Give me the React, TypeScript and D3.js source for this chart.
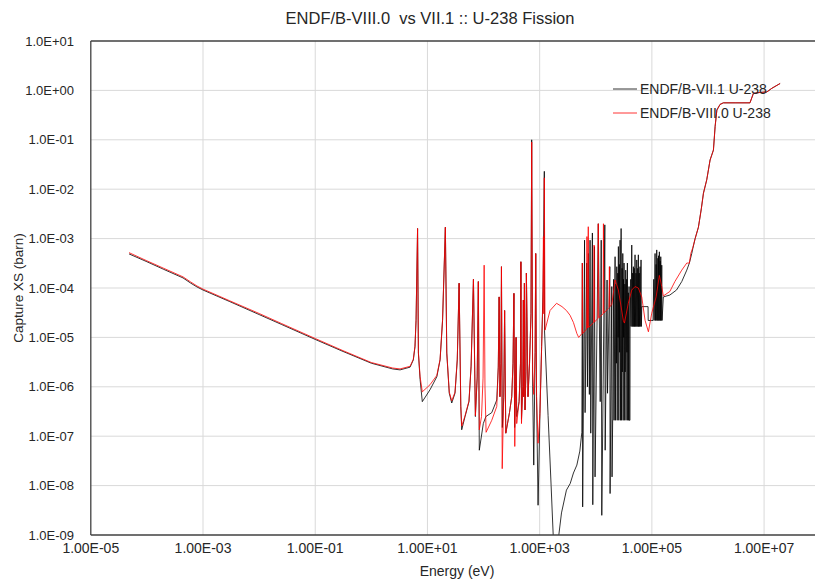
import React from "react";
import * as d3 from "d3";

type Pt = [number, number];

// Axis ticks and their printed labels
const energyTicks = [1e-5, 1e-3, 1e-1, 1e1, 1e3, 1e5, 1e7];
const energyTickLabels = ["1.00E-05", "1.00E-03", "1.00E-01", "1.00E+01", "1.00E+03", "1.00E+05", "1.00E+07"];
const xsTicks = [1e1, 1e0, 1e-1, 1e-2, 1e-3, 1e-4, 1e-5, 1e-6, 1e-7, 1e-8, 1e-9];
const xsTickLabels = ["1.0E+01", "1.0E+00", "1.0E-01", "1.0E-02", "1.0E-03", "1.0E-04", "1.0E-05", "1.0E-06", "1.0E-07", "1.0E-08", "1.0E-09"];

const seriesNames = ["ENDF/B-VII.1 U-238", "ENDF/B-VIII.0 U-238"];

// ENDF/B-VII.1 — [energy eV, cross section barn]
const vii1Thermal: Pt[] = [
  [4.8e-5, 4.9e-4], [1e-4, 3.4e-4], [2e-4, 2.38e-4], [4.4e-4, 1.6e-4], [6e-4, 1.26e-4],
  [7.8e-4, 1.05e-4], [1e-3, 9.1e-5], [3e-3, 5.3e-5], [1e-2, 2.9e-5], [2.53e-2, 1.82e-5],
  [0.1, 9.1e-6], [0.3, 5.3e-6], [1, 3.0e-6], [2.4, 2.3e-6], [3.25, 2.2e-6], [4.9, 2.5e-6],
  [5.6, 3.5e-6], [6.0, 6.5e-6], [6.27, 2.2e-5],
];
const vii1Resolved: Pt[] = [
  [6.67, 1.6e-3], [6.9, 4.8e-6], [7.4, 1.4e-6], [8.1, 5.0e-7], [11.1, 8.7e-7], [14.7, 1.6e-6],
  [16.8, 3.5e-6], [18.6, 2.2e-5], [20.87, 1.7e-3], [22.1, 4.8e-6], [24.5, 7.4e-7], [27.1, 4.7e-7],
  [31, 7.4e-7], [34, 3.5e-6], [36.68, 1.25e-4], [39.3, 4e-7], [40.8, 1.35e-7], [46.8, 2.5e-7],
  [55, 5e-7], [60, 2.6e-6], [66.03, 1.5e-4], [71.5, 2.5e-7], [77, 1.5e-6], [80.75, 1.35e-4],
  [84, 5.2e-8], [99, 1.8e-7], [110, 2.5e-7], [140, 3e-7], [172, 5.4e-7], [183, 2.5e-6],
  [189.7, 6.6e-5], [196, 6.3e-7], [204, 3e-6], [208.5, 2.7e-4], [216, 1.5e-7], [229, 6e-7],
  [237.4, 3.5e-5], [249, 1.15e-7], [290, 3e-7], [318, 6.3e-7], [335, 3e-6], [347.8, 7.8e-5],
  [358, 1.5e-7], [372, 1e-6], [380, 1.0e-5], [390, 2.5e-7], [430, 5e-7], [455, 3e-6],
  [463, 3.4e-4], [474, 2.2e-7], [500, 1e-6], [512, 5.7e-5], [521, 6.3e-7], [535, 1.26e-4],
  [548, 3.4e-7], [570, 2e-6], [580, 2.0e-4], [594, 2.6e-5], [620, 6.3e-7], [660, 3e-6],
  [700, 3e-5], [721, 0.1], [750, 1e-6], [785, 2.6e-8], [830, 5e-6], [851, 5e-4], [880, 6.3e-7],
  [937, 4e-9], [1012, 2.9e-7], [1084, 6.5e-6], [1150, 1e-4], [1211, 0.023],
];
const vii1Unresolved: Pt[] = [
  [1220, 1.4e-5], [1413, 2.6e-7], [1600, 1e-8], [1757, 8e-10], [1950, 2e-10], [2170, 9e-10],
  [2450, 2.8e-9], [3000, 8.1e-9], [3500, 1.1e-8], [4000, 1.8e-8], [4600, 2.6e-8], [5200, 5e-8],
  [5650, 1.2e-7], [5770, 3.2e-4], [5840, 3.7e-9], [6310, 9.3e-4], [6450, 3.0e-7], [6900, 3.2e-4],
  [7100, 1e-6], [7400, 5e-4], [7690, 7e-7], [7910, 9.3e-4], [8140, 1.15e-7], [8700, 1.3e-3],
  [8850, 4.1e-9], [9500, 6.9e-4], [9710, 1.5e-8], [1.11e4, 2.0e-3], [1.2e4, 5e-7], [1.25e4, 9.3e-4],
  [1.28e4, 2.5e-9], [1.45e4, 1.9e-3], [1.47e4, 5.2e-8], [1.59e4, 1.45e-4], [1.62e4, 7.4e-7],
  [1.78e4, 2.7e-4], [1.8e4, 6.9e-9], [1.93e4, 1.07e-4], [1.95e4, 1.5e-8], [2.0e4, 2.1e-7],
  [2.02e4, 2.1e-7], [2.08e4, 1.5e-4], [2.12e4, 2.1e-7], [2.21e4, 4.3e-4], [2.24e4, 2.1e-7],
  [2.3e4, 1.2e-4], [2.33e4, 3e-6], [2.37e4, 2.7e-4], [2.41e4, 2.1e-7], [2.47e4, 2e-4], [2.5e4, 1e-5],
  [2.53e4, 6.9e-4], [2.57e4, 2.1e-7], [2.63e4, 3e-4], [2.66e4, 5e-6], [2.71e4, 9.3e-4], [2.75e4, 2.1e-7],
  [2.83e4, 1.6e-3], [2.87e4, 2.1e-7], [2.94e4, 2.5e-4], [2.97e4, 2e-6], [3.03e4, 5e-4], [3.07e4, 2.1e-7],
  [3.12e4, 1.5e-4], [3.15e4, 1e-5], [3.19e4, 3.2e-4], [3.23e4, 2.1e-7], [3.3e4, 1.2e-4], [3.34e4, 2e-6],
  [3.42e4, 2.3e-4], [3.46e4, 2.1e-7], [3.55e4, 1.5e-4], [3.59e4, 5e-6], [3.66e4, 3.2e-4], [3.7e4, 2.1e-7],
  [3.8e4, 8e-5], [3.85e4, 2.1e-7], [3.92e4, 1.07e-4], [3.97e4, 2.1e-7], [4.07e4, 2.1e-7], [4.09e4, 1.66e-5],
  [4.2e4, 1.5e-4], [4.25e4, 1.66e-5], [4.38e4, 7.4e-4], [4.45e4, 1.66e-5], [4.55e4, 2e-4], [4.6e4, 1.66e-5],
  [4.68e4, 2.7e-4], [4.75e4, 1.66e-5], [4.85e4, 2.5e-4], [4.9e4, 1.66e-5], [5.01e4, 4.7e-4], [5.08e4, 1.66e-5],
  [5.2e4, 2e-4], [5.25e4, 1.66e-5], [5.38e4, 3.7e-4], [5.45e4, 1.66e-5], [5.6e4, 2.5e-4], [5.65e4, 1.66e-5],
  [5.74e4, 4.7e-4], [5.8e4, 1.66e-5], [5.95e4, 2e-4], [6.0e4, 1.66e-5], [6.15e4, 2.7e-4], [6.22e4, 1.66e-5],
  [6.41e4, 3.7e-4], [6.5e4, 1.66e-5], [6.6e4, 4.2e-5], [8.55e4, 4.2e-5], [8.6e4, 2.2e-5],
  [9.95e4, 2.2e-5], [1.05e5, 2.2e-5], [1.08e5, 1.5e-4], [1.1e5, 2.2e-5], [1.14e5, 5e-4], [1.16e5, 2.2e-5],
  [1.19e5, 3e-4], [1.2e5, 2.2e-5], [1.22e5, 5.9e-4], [1.25e5, 2.2e-5], [1.28e5, 4e-4], [1.29e5, 2.2e-5],
  [1.31e5, 4.5e-4], [1.33e5, 2.2e-5], [1.36e5, 5.4e-4], [1.38e5, 2.2e-5], [1.41e5, 3.5e-4], [1.42e5, 2.2e-5],
  [1.44e5, 4.3e-4], [1.47e5, 2.2e-5], [1.5e5, 2.9e-4], [1.52e5, 2.2e-5], [1.6e5, 6.6e-5],
];
const vii1Fast: Pt[] = [
  [2.09e5, 7.2e-5], [2.75e5, 9.1e-5], [3.41e5, 1.35e-4], [4.19e5, 2.3e-4], [4.66e5, 3.2e-4],
  [5.14e5, 5e-4], [5.37e5, 6.3e-4], [5.9e5, 1e-3], [6.75e5, 1.7e-3], [7.6e5, 4e-3], [8.3e5, 8.3e-3],
  [9.5e5, 1.55e-2], [1.09e6, 3.9e-2], [1.25e6, 6.2e-2], [1.34e6, 0.186], [1.44e6, 0.4], [1.64e6, 0.52],
  [1.88e6, 0.56], [3.04e6, 0.56], [5.6e6, 0.56], [6.45e6, 0.87], [8.5e6, 0.91], [1.12e7, 0.93],
  [1.37e7, 1.1], [1.93e7, 1.38],
];

// ENDF/B-VIII.0 — [energy eV, cross section barn]
const viii0Thermal: Pt[] = [
  [4.8e-5, 5.2e-4], [1e-4, 3.55e-4], [2e-4, 2.5e-4], [4.4e-4, 1.68e-4], [6e-4, 1.33e-4],
  [7.8e-4, 1.1e-4], [1e-3, 9.5e-5], [3e-3, 5.5e-5], [1e-2, 3.05e-5], [2.53e-2, 1.9e-5],
  [0.1, 9.5e-6], [0.3, 5.5e-6], [1, 3.1e-6], [2.4, 2.4e-6], [3.25, 2.3e-6], [4.9, 2.6e-6],
  [5.6, 3.6e-6], [6.0, 6.7e-6], [6.27, 2.3e-5],
];
const viii0Resolved: Pt[] = [
  [6.67, 1.6e-3], [6.9, 5.0e-6], [7.4, 1.6e-6], [8.1, 7.9e-7], [11.1, 1.1e-6], [14.7, 1.7e-6],
  [16.8, 3.6e-6], [18.6, 2.3e-5], [20.87, 1.7e-3], [22.1, 5e-6], [24.5, 7.8e-7], [27.1, 5.2e-7],
  [31, 7.8e-7], [34, 3.6e-6], [36.68, 1.25e-4], [39.3, 4.2e-7], [40.8, 1.6e-7], [46.8, 2.6e-7],
  [55, 5.2e-7], [60, 2.7e-6], [66.03, 1.5e-4], [71.5, 2.6e-7], [77, 1.6e-6], [80.75, 1.35e-4],
  [84, 1.35e-7], [92, 2.5e-7], [98, 1.5e-6], [102.5, 2.9e-4], [106, 1e-6], [111, 1.2e-7],
  [140, 2.1e-7], [172, 4e-7], [183, 2.5e-6], [189.7, 6.6e-5], [196, 6.3e-7], [204, 3e-6],
  [208.5, 2.7e-4], [215, 2.2e-8], [229, 6e-7], [237.4, 3.5e-5], [249, 1.15e-7], [290, 3e-7],
  [318, 6.3e-7], [335, 3e-6], [347.8, 7.8e-5], [360, 6.2e-8], [372, 1e-6], [380, 1.0e-5],
  [390, 1.8e-7], [430, 5e-7], [455, 3e-6], [463, 3.4e-4], [474, 1.8e-7], [500, 1e-6],
  [512, 5.7e-5], [521, 6.3e-7], [535, 1.26e-4], [548, 3.4e-7], [570, 2e-6], [580, 2.0e-4],
  [594, 2.6e-5], [620, 6.3e-7], [660, 3e-6], [700, 3e-5], [721, 0.09], [750, 2e-6], [785, 7e-7],
  [830, 5e-6], [851, 5e-4], [880, 6.3e-7], [937, 7.2e-8], [1012, 2.9e-7], [1084, 6.5e-6],
  [1140, 5e-5], [1167, 1.1e-3], [1185, 3e-5], [1211, 0.017],
];
const viii0Unresolved: Pt[] = [
  [1247, 1.4e-5], [1530, 3.5e-5], [2000, 4.9e-5], [2500, 4.2e-5], [3000, 3.5e-5], [3480, 2.8e-5],
  [4000, 2e-5], [4600, 1.2e-5], [4960, 1.0e-5], [5680, 1.2e-5], [5770, 3.2e-4], [5860, 1.2e-5],
  [6860, 1.48e-5], [6960, 1.1e-3], [7150, 1.55e-5], [7350, 1.74e-3], [7460, 1.6e-5], [9190, 2.0e-5],
  [9330, 7.4e-4], [9470, 2.05e-5], [1.09e4, 2.4e-5], [1.11e4, 2.0e-3], [1.13e4, 2.5e-5],
  [1.35e4, 3.0e-5], [1.37e4, 2.0e-3], [1.39e4, 3.1e-5], [1.72e4, 4.0e-5], [1.75e4, 2.7e-4],
  [1.78e4, 4.2e-5], [1.93e4, 4.6e-5], [2.21e4, 1.45e-4], [2.53e4, 9.1e-5], [3.1e4, 2.2e-5],
  [3.24e4, 1.95e-5], [3.8e4, 4.9e-5], [4.38e4, 9.1e-5], [5.01e4, 1.07e-4], [5.74e4, 1e-4],
  [6.6e4, 6.6e-5], [7.57e4, 2.2e-5], [8.67e4, 1.3e-5], [9.95e4, 3.1e-5], [1.19e5, 6.6e-5],
  [1.36e5, 1.8e-4], [1.5e5, 1.07e-4], [1.6e5, 6.9e-5],
];
const viii0Fast: Pt[] = [
  [2.09e5, 8.5e-5], [2.57e5, 1.35e-4], [3.41e5, 2.3e-4], [4.19e5, 3.2e-4], [4.66e5, 3.2e-4],
  [4.94e5, 5e-4], [5.37e5, 6.6e-4], [5.9e5, 1e-3], [6.75e5, 1.7e-3], [7.6e5, 4e-3], [8.3e5, 8.3e-3],
  [9.5e5, 1.55e-2], [1.09e6, 3.9e-2], [1.25e6, 6.2e-2], [1.34e6, 0.186], [1.44e6, 0.4], [1.64e6, 0.52],
  [1.88e6, 0.56], [3.04e6, 0.56], [5.6e6, 0.56], [6.45e6, 0.87], [8.5e6, 0.91], [1.12e7, 0.93],
  [1.37e7, 1.1], [1.93e7, 1.38],
];

const vii1 = [...vii1Thermal, ...vii1Resolved, ...vii1Unresolved, ...vii1Fast];
const viii0 = [...viii0Thermal, ...viii0Resolved, ...viii0Unresolved, ...viii0Fast];

const FONT = "'Liberation Sans', Arial, sans-serif";
const TEXT = "#262626";

export default function App() {
  const W = 815;
  const H = 580;
  const left = 90.8;
  const right = 820.2;
  const top = 41;
  const bottom = 535;

  const x = d3.scaleLog().domain([1e-5, 1e8]).range([left, right]);
  const y = d3.scaleLog().domain([1e-9, 1e1]).range([bottom, top]);
  const line = d3
    .line<Pt>()
    .x((d) => x(d[0]))
    .y((d) => y(Math.max(d[1], 1e-12)));

  return (
    <svg
      width={W}
      height={H}
      style={{ position: "absolute", left: 0, top: 0, background: "#fff" }}
      fontFamily={FONT}
    >
      <defs>
        <clipPath id="plot-clip">
          <rect x={left} y={top} width={right - left} height={bottom - top} />
        </clipPath>
      </defs>
      <rect x={0} y={0} width={W} height={H} fill="#fff" />

      {/* gridlines */}
      {xsTicks.slice(1, -1).map((t) => (
        <line key={"gy" + t} x1={left} x2={W} y1={y(t)} y2={y(t)} stroke="#d9d9d9" strokeWidth={1} />
      ))}
      {energyTicks.slice(1).map((t) => (
        <line key={"gx" + t} x1={x(t)} x2={x(t)} y1={top} y2={bottom} stroke="#d9d9d9" strokeWidth={1} />
      ))}

      {/* data */}
      <g clipPath="url(#plot-clip)" fill="none">
        <path d={line(vii1) ?? ""} stroke="#000" strokeWidth={0.8} strokeLinejoin="round" />
        <path d={line(viii0) ?? ""} stroke="#ff0000" strokeWidth={0.8} strokeLinejoin="round" />
      </g>

      {/* frame */}
      <line x1={left} x2={left} y1={top} y2={bottom} stroke="#404040" strokeWidth={1.3} />
      <line x1={left} x2={W} y1={bottom} y2={bottom} stroke="#404040" strokeWidth={1.3} />
      <line x1={left} x2={W} y1={top} y2={top} stroke="#404040" strokeWidth={1.3} />

      {/* y ticks */}
      {xsTicks.map((t, i) => (
        <text key={"ty" + t} x={74} y={y(t)} dy="0.35em" textAnchor="end" fontSize={13} fill={TEXT}>
          {xsTickLabels[i]}
        </text>
      ))}
      {/* x ticks */}
      {energyTicks.map((t, i) => (
        <text key={"tx" + t} x={x(t)} y={548} dy="0.35em" textAnchor="middle" fontSize={14} fill={TEXT}>
          {energyTickLabels[i]}
        </text>
      ))}

      {/* titles */}
      <text
        x={430}
        y={18}
        dy="0.35em"
        textAnchor="middle"
        fontSize={16.5}
        fill={TEXT}
        style={{ whiteSpace: "pre" }}
      >
        {"ENDF/B-VIII.0  vs VII.1 :: U-238 Fission"}
      </text>
      <text x={457} y={571} dy="0.35em" textAnchor="middle" fontSize={14} fill={TEXT}>
        Energy (eV)
      </text>
      <text
        transform="translate(18,288) rotate(-90)"
        dy="0.35em"
        textAnchor="middle"
        fontSize={13.5}
        fill={TEXT}
      >
        Capture XS (barn)
      </text>

      {/* legend */}
      <g>
        <line x1={613} x2={637} y1={89} y2={89} stroke="#000" strokeWidth={0.8} />
        <text x={640} y={89} dy="0.35em" fontSize={14} fill={TEXT}>
          {seriesNames[0]}
        </text>
        <line x1={613} x2={637} y1={113} y2={113} stroke="#ff0000" strokeWidth={0.8} />
        <text x={640} y={113} dy="0.35em" fontSize={14} fill={TEXT}>
          {seriesNames[1]}
        </text>
      </g>
    </svg>
  );
}
